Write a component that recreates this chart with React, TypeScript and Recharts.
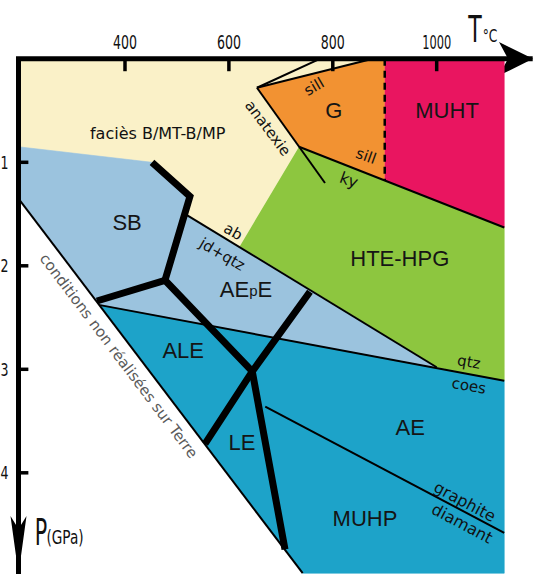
import React from 'react';
import { ScatterChart, Scatter, XAxis, YAxis } from 'recharts';

type Pt = { T: number; P: number };
type Lbl = { text: string; T: number; P: number };

// ---------- axes ----------
const T_DOMAIN: [number, number] = [195, 1180];
const P_DOMAIN: [number, number] = [0, 4.97];
const tTicks = [400, 600, 800, 1000];
const pTicks = [1, 2, 3, 4];

// ---------- facies zones (T in °C, P in GPa) ----------
const zoneBMP: Pt[] = [
  { T: 195, P: 0 }, { T: 900, P: 0 }, { T: 900, P: 1.18 }, { T: 735, P: 0.85 },
  { T: 621, P: 1.81 }, { T: 516, P: 1.5 }, { T: 525, P: 1.33 }, { T: 452, P: 1.0 },
  { T: 195, P: 0.85 },
];
const zoneG: Pt[] = [
  { T: 654, P: 0.28 }, { T: 877, P: 0 }, { T: 900, P: 0 }, { T: 900, P: 1.18 }, { T: 735, P: 0.85 },
];
const zoneMUHT: Pt[] = [
  { T: 900, P: 0 }, { T: 1130, P: 0 }, { T: 1130, P: 1.63 }, { T: 900, P: 1.18 },
];
const zoneHTE: Pt[] = [
  { T: 735, P: 0.85 }, { T: 900, P: 1.18 }, { T: 1130, P: 1.63 }, { T: 1130, P: 3.11 },
  { T: 1000, P: 2.98 }, { T: 621, P: 1.81 },
];
const zoneSB: Pt[] = [
  { T: 195, P: 0.85 }, { T: 452, P: 1.0 }, { T: 525, P: 1.33 }, { T: 516, P: 1.5 },
  { T: 1000, P: 2.98 }, { T: 352, P: 2.38 }, { T: 195, P: 1.35 },
];
const zoneAE: Pt[] = [
  { T: 352, P: 2.38 }, { T: 1130, P: 3.11 }, { T: 1130, P: 4.97 }, { T: 742, P: 4.97 },
];

// ---------- reaction lines ----------
const lineAb: Pt[] = [{ T: 516, P: 1.5 }, { T: 1000, P: 2.98 }];
const lineQtzCoes: Pt[] = [{ T: 352, P: 2.38 }, { T: 1130, P: 3.11 }];
const lineSillKy: Pt[] = [{ T: 735, P: 0.85 }, { T: 1130, P: 1.63 }];
const lineAnatexie: Pt[] = [{ T: 654, P: 0.28 }, { T: 785, P: 1.2 }];
const lineSill: Pt[] = [{ T: 654, P: 0.28 }, { T: 877, P: 0 }];
const lineSillTop: Pt[] = [{ T: 654, P: 0.28 }, { T: 775, P: 0 }];
const lineEarth: Pt[] = [{ T: 195, P: 1.35 }, { T: 742, P: 4.97 }];
const lineGraphite: Pt[] = [{ T: 670, P: 3.36 }, { T: 1130, P: 4.58 }];
const line900: Pt[] = [{ T: 900, P: 0 }, { T: 900, P: 1.18 }];

// ---------- thick facies limits ----------
const thickA: Pt[] = [{ T: 452, P: 1.0 }, { T: 525, P: 1.33 }, { T: 477, P: 2.14 }];
const thickB: Pt[] = [{ T: 477, P: 2.14 }, { T: 346, P: 2.34 }];
const thickC: Pt[] = [{ T: 477, P: 2.14 }, { T: 645, P: 3.02 }, { T: 708, P: 4.74 }];
const thickD: Pt[] = [{ T: 756, P: 2.25 }, { T: 645, P: 3.02 }, { T: 554, P: 3.72 }];

// ---------- labels ----------
const zoneLabels: Lbl[] = [
  { text: 'SB', T: 404, P: 1.58 },
  { text: 'AEpE', T: 633, P: 2.23 },
  { text: 'ALE', T: 512, P: 2.82 },
  { text: 'LE', T: 625, P: 3.71 },
  { text: 'AE', T: 949, P: 3.56 },
  { text: 'MUHP', T: 862, P: 4.44 },
  { text: 'HTE-HPG', T: 929, P: 1.93 },
  { text: 'G', T: 802, P: 0.5 },
  { text: 'MUHT', T: 1020, P: 0.5 },
];
const reactionLabels: Lbl[] = [
  { text: 'faciès B/MT-B/MP', T: 463, P: 0.72 },
  { text: 'sill', T: 764, P: 0.27 },
  { text: 'anatexie', T: 675, P: 0.67 },
  { text: 'sill ', T: 864, P: 0.94 },
  { text: 'ky', T: 831, P: 1.17 },
  { text: 'ab', T: 608, P: 1.67 },
  { text: 'jd+qtz', T: 587, P: 1.89 },
  { text: 'qtz', T: 1062, P: 2.93 },
  { text: 'coes', T: 1062, P: 3.16 },
  { text: 'graphite', T: 1054, P: 4.28 },
  { text: 'diamant', T: 1049, P: 4.49 },
];
const earthLabel: Lbl[] = [{ text: 'conditions non réalisées sur Terre', T: 388, P: 2.87 }];

// ---------- styles ----------
const ARIAL = "'Liberation Sans', Arial, sans-serif";
const COMIC = "'DejaVu Sans', sans-serif";
const NARROW = "'Liberation Sans Narrow', 'DejaVu Sans Condensed', 'Liberation Sans', sans-serif";
const COLORS = {
  bmp: '#FAF1C8',
  g: '#F29232',
  muht: '#E91560',
  hte: '#8DC63F',
  sb: '#9BC3DE',
  ae: '#1DA3C9',
};
const reactionStyle: Record<string, { size: number; rot: number }> = {
  'faciès B/MT-B/MP': { size: 16, rot: 0 },
  sill: { size: 15, rot: -30 },
  anatexie: { size: 15, rot: 53 },
  'sill ': { size: 15, rot: 20 },
  ky: { size: 16, rot: 20 },
  ab: { size: 15, rot: 30 },
  'jd+qtz': { size: 15, rot: 30 },
  qtz: { size: 15, rot: 10 },
  coes: { size: 15, rot: 10 },
  graphite: { size: 16, rot: 28 },
  diamant: { size: 16, rot: 28 },
};

const W = 534;
const H = 574;
const MARGIN = { top: 18.8, right: 3.8, bottom: 0.8, left: 0.5 };

const noShape = () => <g />;

const ZoneLabel = (props: any) => {
  const { cx, cy, payload } = props;
  if (payload.text === 'AEpE') {
    return (
      <text x={cx} y={cy} textAnchor="middle" dominantBaseline="central" fontFamily={ARIAL} fontSize={22} fill="#151515">
        AE<tspan fontSize={15}>p</tspan>E
      </text>
    );
  }
  return (
    <text x={cx} y={cy} textAnchor="middle" dominantBaseline="central" fontFamily={ARIAL} fontSize={22} fill="#151515">
      {payload.text}
    </text>
  );
};

const ReactionLabel = (props: any) => {
  const { cx, cy, payload } = props;
  const st = reactionStyle[payload.text] || { size: 15, rot: 0 };
  return (
    <text
      x={cx}
      y={cy}
      textAnchor="middle"
      dominantBaseline="central"
      fontFamily={COMIC}
      fontSize={st.size}
      fill="#111"
      transform={`rotate(${st.rot} ${cx} ${cy})`}
    >
      {payload.text.trim()}
    </text>
  );
};

const EarthLabel = (props: any) => {
  const { cx, cy, payload } = props;
  return (
    <text
      x={cx}
      y={cy}
      textAnchor="middle"
      dominantBaseline="central"
      fontFamily={COMIC}
      fontSize={15}
      fill="#5a5a5a"
      transform={`rotate(53 ${cx} ${cy})`}
    >
      {payload.text}
    </text>
  );
};

const TopTick = (props: any) => {
  const { x, y, payload } = props;
  const s = String(payload.value);
  return (
    <text x={x} y={y} textAnchor="middle" fontFamily={NARROW} fontSize={20} fill="#111"
      textLength={s.length > 3 ? 29 : 24} lengthAdjust="spacingAndGlyphs">
      {s}
    </text>
  );
};

const LeftTick = (props: any) => {
  const { x, y, payload } = props;
  return (
    <text x={x} y={y} dy="0.36em" textAnchor="end" fontFamily={NARROW} fontSize={18} fill="#111"
      textLength={8} lengthAdjust="spacingAndGlyphs">
      {String(payload.value)}
    </text>
  );
};

const TopDecor = () => (
  <g>
    <polygon points="533,58.8 499,42 508,58.8 499,75.6" fill="#000" />
    <g transform="translate(475,42) scale(0.66,1)">
      <text x={0} y={0} textAnchor="middle" fontFamily={NARROW} fontSize={37} fill="#111">T</text>
    </g>
    <g transform="translate(490,42) scale(0.8,1)">
      <text x={0} y={0} textAnchor="middle" fontFamily={NARROW} fontSize={17} fill="#111">°C</text>
    </g>
  </g>
);

const LeftDecor = () => (
  <g>
    <polygon points="18.5,574 10.5,516 18.5,529 26.5,516" fill="#000" />
    <g transform="translate(41,545) scale(0.62,1)">
      <text x={0} y={0} textAnchor="middle" fontFamily={NARROW} fontSize={37} fill="#111">P</text>
    </g>
    <g transform="translate(65,544) scale(0.8,1)">
      <text x={0} y={0} textAnchor="middle" fontFamily={NARROW} fontSize={19} fill="#111">(GPa)</text>
    </g>
  </g>
);

const fillZone = (data: Pt[], color: string, key: string) => (
  <Scatter key={key} data={data} shape={noShape} line={{ fill: color, stroke: color, strokeWidth: 0.6 }}
    lineJointType="linear" isAnimationActive={false} />
);
const thin = (data: Pt[], key: string, extra: Record<string, any> = {}) => (
  <Scatter key={key} data={data} shape={noShape} line={{ stroke: '#000', strokeWidth: 2, fill: 'none', ...extra }}
    lineJointType="linear" isAnimationActive={false} />
);
const thick = (data: Pt[], key: string) => (
  <Scatter key={key} data={data} shape={noShape}
    line={{ stroke: '#000', strokeWidth: 7, fill: 'none', strokeLinejoin: 'miter' }}
    lineJointType="linear" isAnimationActive={false} />
);

export default function App() {
  const axisFrame: Pt[] = [
    { T: T_DOMAIN[0], P: P_DOMAIN[1] },
    { T: T_DOMAIN[0], P: P_DOMAIN[0] },
    { T: T_DOMAIN[1], P: P_DOMAIN[0] },
  ];
  return (
    <div style={{ position: 'absolute', left: 0, top: 0, width: W, height: H, background: '#fff' }}>
      <ScatterChart width={W} height={H} margin={MARGIN}>
        <XAxis
          type="number"
          dataKey="T"
          orientation="top"
          domain={T_DOMAIN}
          ticks={tTicks}
          height={40}
          axisLine={false}
          tickLine={false}
          tickSize={0}
          tickMargin={10}
          tick={TopTick}
          label={<TopDecor />}
        />
        <YAxis
          type="number"
          dataKey="P"
          reversed
          domain={P_DOMAIN}
          ticks={pTicks}
          width={18}
          axisLine={false}
          tickLine={false}
          tickSize={0}
          tickMargin={10}
          tick={LeftTick}
          label={<LeftDecor />}
        />
        {fillZone(zoneBMP, COLORS.bmp, 'z1')}
        {fillZone(zoneG, COLORS.g, 'z2')}
        {fillZone(zoneMUHT, COLORS.muht, 'z3')}
        {fillZone(zoneHTE, COLORS.hte, 'z4')}
        {fillZone(zoneSB, COLORS.sb, 'z5')}
        {fillZone(zoneAE, COLORS.ae, 'z6')}

        {thin(lineAb, 'l1')}
        {thin(lineQtzCoes, 'l2')}
        {thin(lineSillKy, 'l3')}
        {thin(lineAnatexie, 'l4')}
        {thin(lineSill, 'l5')}
        {thin(lineSillTop, 'l6')}
        {thin(lineEarth, 'l7')}
        {thin(lineGraphite, 'l8')}
        {thin(line900, 'l9', { strokeWidth: 2.5, strokeDasharray: '7 5' })}

        {thick(thickA, 't1')}
        {thick(thickB, 't2')}
        {thick(thickC, 't3')}
        {thick(thickD, 't4')}

        {tTicks.map((t) =>
          thin([{ T: t, P: 0 }, { T: t, P: 0.12 }], `tt${t}`, { strokeWidth: 3.5 })
        )}
        {pTicks.map((p) =>
          thin([{ T: T_DOMAIN[0], P: p }, { T: 214, P: p }], `pt${p}`, { strokeWidth: 3.5 })
        )}
        {thin(axisFrame, 'frame', { strokeWidth: 5, strokeLinecap: 'square', strokeLinejoin: 'miter' })}

        <Scatter data={zoneLabels} shape={ZoneLabel} isAnimationActive={false} />
        <Scatter data={reactionLabels} shape={ReactionLabel} isAnimationActive={false} />
        <Scatter data={earthLabel} shape={EarthLabel} isAnimationActive={false} />
      </ScatterChart>
    </div>
  );
}
